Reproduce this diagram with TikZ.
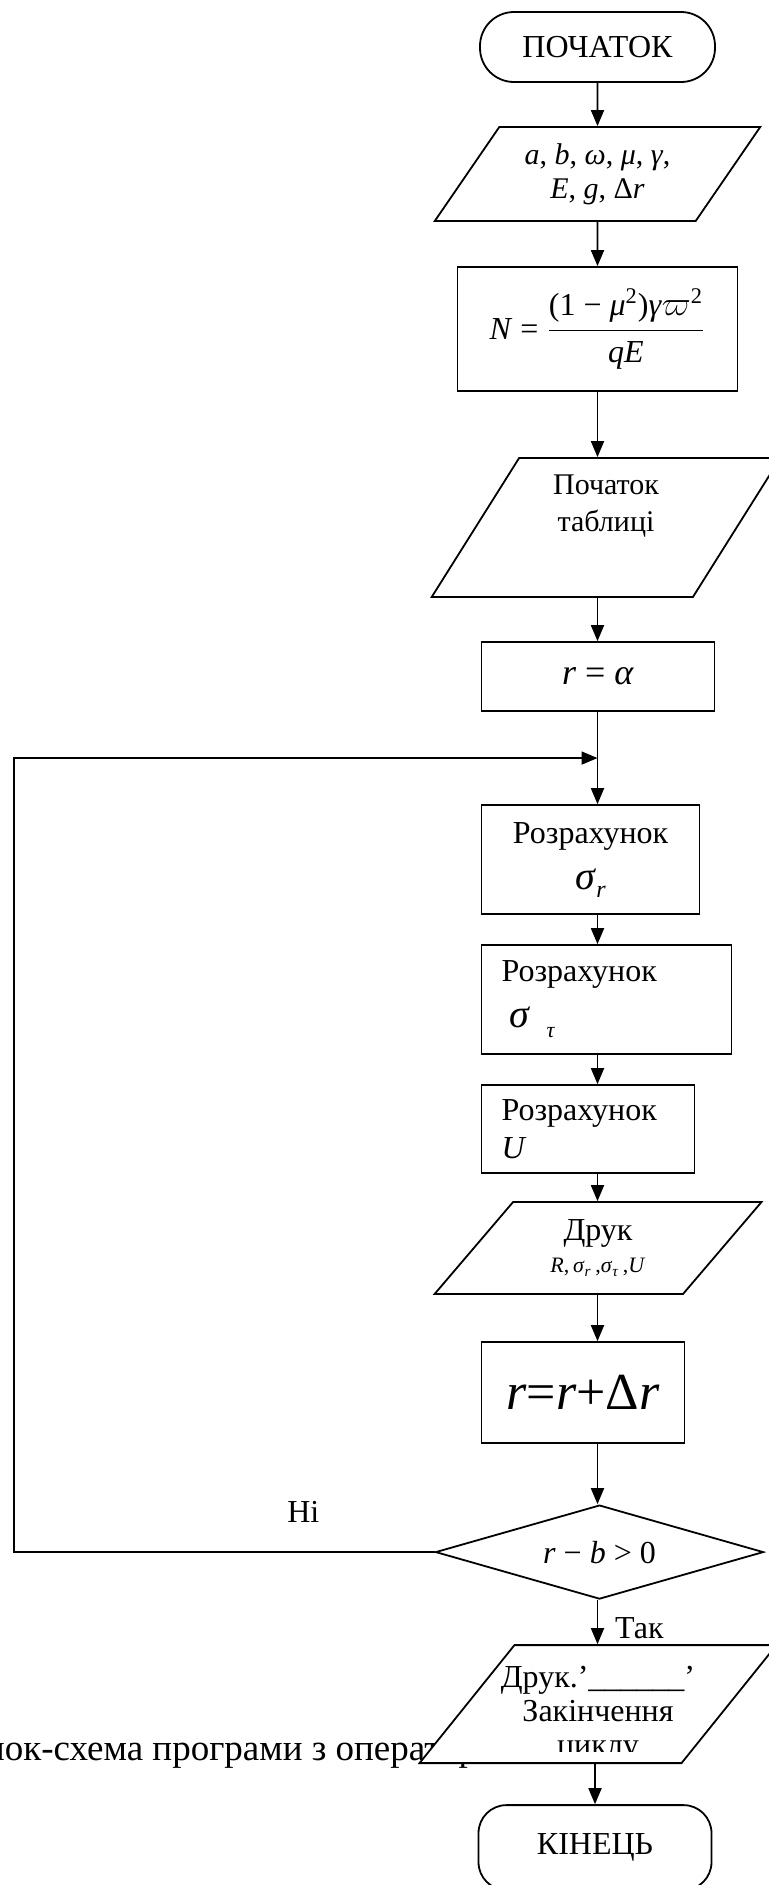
\documentclass[tikz,border=0pt]{standalone}
\usepackage{fontspec}
\setmainfont{Liberation Serif}
\usepackage{amsmath}
\usetikzlibrary{shapes.geometric, arrows.meta, positioning}

\begin{document}
\begin{tikzpicture}[node distance=20pt, font=\fontsize{16}{17}\selectfont]
    % Define styles
    \tikzstyle{terminal} = [rectangle, rounded corners=17pt, draw=black, line width=0.9pt, fill=white, minimum width=117.5pt, minimum height=35pt, align=center]
    \tikzstyle{process} = [rectangle, draw=black, line width=0.9pt, fill=white, align=center]
    \tikzstyle{io} = [trapezium, trapezium stretches=true, draw=black, line width=0.9pt, fill=white, align=center]
    \tikzstyle{decision} = [diamond, aspect=3.5, draw=black, line width=0.9pt, fill=white, inner sep=0pt]
    \tikzstyle{arrow} = [line width=0.9pt, -{Triangle[length=8pt, width=6.5pt]}]

    \useasboundingbox (0,0) rectangle (384.5pt,-942.5pt);
    \clip (0,0) rectangle (384.5pt,-942.5pt);

    % Caption (partly under the last block)
    \node (caption) [anchor=west, inner sep=0pt, font=\fontsize{18.5}{18.5}\selectfont] at (-7pt,-878pt) {лок-схема програми з оператором};

    % Nodes
    \node (start) [terminal] at (298.75pt,-23.5pt) {ПОЧАТОК};
    \node (in) [io, trapezium left angle=55, trapezium right angle=125, minimum width=163pt, minimum height=47pt, below=21.6pt of start, font=\fontsize{15}{17}\selectfont] {\textit{a}, \textit{b}, \textit{ω}, \textit{μ}, \textit{γ},\\\textit{E}, \textit{g}, Δ\textit{r}};
    \node (calc) [process, minimum width=140pt, minimum height=62pt, below=22.1pt of in] {\textit{N} = $\dfrac{\text{(1 − \textit{μ}\textsuperscript{2})\textit{γ}$\varpi$\textsuperscript{2}}}{\text{\textit{qE}}}$};
    \node (tab) [io, trapezium left angle=63.3, trapezium right angle=116.7, minimum width=174.5pt, minimum height=69.5pt, below=32.6pt of calc, xshift=4.25pt, label={[name=tabtxt, align=center, yshift=10.5pt, font=\fontsize{15}{18.5}\selectfont]center:Початок\\таблиці}] {};
    \node (ra) [process, minimum width=116.5pt, minimum height=34.5pt, below=21.6pt of tab, xshift=-4pt, font=\fontsize{18}{18}\selectfont] {\textit{r} = \textit{α}};
    \node (sr) [process, minimum width=109pt, minimum height=54.5pt, below=46.1pt of ra, xshift=-3.75pt] {Розрахунок\\[6pt]{\fontsize{20}{20}\selectfont\textit{σ}}\raisebox{-4pt}{\fontsize{12}{12}\selectfont\textit{r}}};
    \node (st) [process, minimum width=125pt, minimum height=54.5pt, text width=105pt, inner xsep=10pt, align=left, below=14.6pt of sr.south west, anchor=north west] {Розрахунок\\[6pt]\hspace*{4pt}{\fontsize{20}{20}\selectfont\textit{σ}}\hspace{8pt}\raisebox{-5pt}{\fontsize{11}{11}\selectfont\textit{τ}}};
    \node (su) [process, minimum width=106.5pt, minimum height=44pt, text width=86.5pt, inner xsep=10pt, align=left, below=14.6pt of st.south west, anchor=north west] {Розрахунок\\[2pt]\textit{U}};
    \node (out) [io, trapezium left angle=54.3, trapezium right angle=125.7, minimum width=163.5pt, minimum height=46pt, below=13.6pt of su, xshift=5pt] {Друк\\[-1pt]{\fontsize{11}{12}\selectfont\textit{R},\,\textit{σ}\textsubscript{\textit{r}}\,,\textit{σ}\textsubscript{\textit{τ}}\,,\textit{U}}};
    \node (step) [process, minimum width=101.5pt, minimum height=50.5pt, below=23.1pt of out, xshift=-7.5pt, font=\fontsize{26}{26}\selectfont] {\textit{r}=\textit{r}+Δ\textit{r}};
    \node (dec) [decision, minimum width=164pt, minimum height=47pt, below=30.1pt of step, xshift=8.25pt] {\textit{r} − \textit{b} > 0};
    \node (ende) [io, trapezium left angle=60.4, trapezium right angle=119.6, minimum width=178.5pt, minimum height=59pt, below=22.1pt of dec, xshift=-0.75pt] {};
    \begin{scope}
        \clip ([xshift=-100pt]ende.north) rectangle ([xshift=100pt, yshift=-53.5pt]ende.north);
        \node (endtxt) [anchor=north, align=center, inner sep=0pt] at ([yshift=-11pt]ende.north) {Друк.’\_\_\_\_\_\_’\\Закінчення\\циклу};
    \end{scope}
    \node (stop) [terminal, rounded corners=14pt, minimum width=116.5pt, minimum height=42.5pt, below=20.1pt of ende, xshift=-1.5pt] {КІНЕЦЬ};

    % Arrows
    \draw [arrow] (start) -- (in);
    \draw [arrow] (in) -- (calc);
    \draw [arrow] (calc) -- (calc |- tab.north);
    \draw [arrow] (tab.south -| start) -- (ra.north -| start);
    \draw [arrow] (ra.south -| start) -- (sr.north -| start);
    \draw [arrow] (sr.south -| start) -- (st.north -| start);
    \draw [arrow] (st.south -| start) -- (su.north -| start);
    \draw [arrow] (su.south -| start) -- (out.north -| start);
    \draw [arrow] (out.south -| start) -- (step.north -| start);
    \draw [arrow] (step.south -| start) -- (dec.north -| start);
    \draw [arrow] (dec.south -| start) -- node (yes) [right=5pt, yshift=-3pt] {Так} (ende.north -| start);
    \draw [arrow] (ende.south -| stop) -- (stop);

    % Loop back
    \path (ra.south -| start) -- coordinate[midway] (jn) (sr.north -| start);
    \coordinate (lft) at (7pt,0);
    \draw [arrow] (dec.west) -| node (no) [pos=0.156, yshift=20pt] {Ні} (lft |- jn) -- (jn);
\end{tikzpicture}
\end{document}
